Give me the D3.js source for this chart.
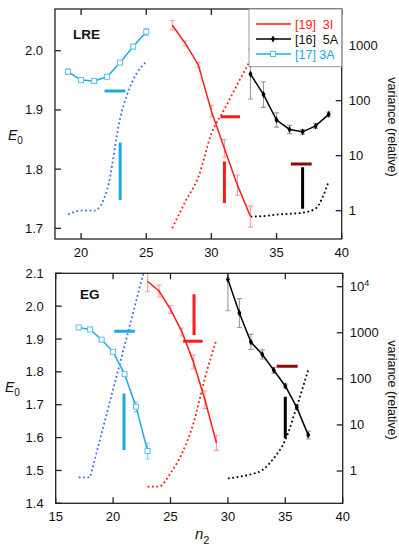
<!DOCTYPE html>
<html>
<head>
<meta charset="utf-8">
<script src="https://cdn.jsdelivr.net/npm/d3@7"></script>
<style>
  body { margin: 0; background: #fff; }
  text { font-family: "Liberation Sans", Arial, sans-serif; fill: #111; }
</style>
</head>
<body>
<script>
// ---- LRE panel data ----
const lre3A_n = [19, 20, 21, 22, 23, 24, 25];
const lre3A_E = [1.9645, 1.9505, 1.949, 1.956, 1.980, 2.007, 2.032];
const lre3A_err = [0.005, 0.003, 0.002, 0.003, 0.003, 0.004, 0.006];
const lre3A_var = [0.86, 1.0, 1.0, 2.4, 48, 240, 510];

const lre3I_n = [27, 28, 29, 30, 31, 32, 33];
const lre3I_E = [2.043, 2.0125, 1.976, 1.898, 1.835, 1.773, 1.720];
const lre3I_err = [0.008, 0.004, 0.004, 0.010, 0.015, 0.017, 0.018];
const lre3I_var = [0.48, 1.46, 4.1, 25, 70, 200, 550];

const lre5A_n = [33, 34, 35, 36, 37, 38, 39];
const lre5A_E = [1.9606, 1.926, 1.883, 1.867, 1.863, 1.873, 1.8926];
const lre5A_err = [0.042, 0.0216, 0.012, 0.007, 0.004, 0.004, 0.004];
const lre5A_var = [0.78, 0.80, 0.85, 0.88, 0.92, 1.1, 3.4];

// estimate bars: horizontal [n from, n to, E], vertical [n, E from, E to]
const lre3A_hbar = [21.8, 23.4, 1.932], lre3A_vbar = [23, 1.748, 1.845];
const lre3I_hbar = [30.7, 32.2, 1.8885], lre3I_vbar = [31, 1.743, 1.813];
const lre5A_hbar = [36.1, 37.7, 1.8086], lre5A_vbar = [37, 1.733, 1.803];

// ---- EG panel data ----
const eg3A_n = [17, 18, 19, 20, 21, 22, 23];
const eg3A_E = [1.935, 1.929, 1.898, 1.861, 1.793, 1.694, 1.559];
const eg3A_err = [0.002, 0.002, 0.002, 0.003, 0.005, 0.015, 0.024];
const eg3A_var = [0.73, 0.73, 6.6, 59, 530, 4800, 43000];

const eg3I_n = [23, 24, 25, 26, 27, 28, 29];
const eg3I_E = [2.0757, 2.046, 1.990, 1.9216, 1.830, 1.715, 1.584];
const eg3I_err = [0.032, 0.018, 0.012, 0.012, 0.021, 0.027, 0.023];
const eg3I_var = [0.46, 0.46, 0.9, 2.4, 10.8, 105, 700];

const eg5A_n = [30, 31, 32, 33, 34, 35, 36, 37];
const eg5A_E = [2.081, 1.979, 1.891, 1.853, 1.805, 1.757, 1.692, 1.6076];
const eg5A_err = [0.095, 0.044, 0.023, 0.014, 0.009, 0.006, 0.006, 0.012];
const eg5A_var = [0.69, 0.75, 0.85, 1.05, 1.9, 4.7, 25, 157];

const eg3A_hbar = [20.1, 21.9, 1.924], eg3A_vbar = [20.95, 1.562, 1.734];
const eg3I_hbar = [26.1, 27.8, 1.893], eg3I_vbar = [27.05, 1.912, 2.036];
const eg5A_hbar = [34.25, 36.08, 1.817], eg5A_vbar = [35, 1.598, 1.724];

// ticks
const lreXTicks = [20, 25, 30, 35, 40];
const lreETicks = [1.7, 1.8, 1.9, 2.0];
const lreVarTicks = [1, 10, 100, 1000];
const egXTicks = [15, 20, 25, 30, 35, 40];
const egETicks = [1.4, 1.5, 1.6, 1.7, 1.8, 1.9, 2.0, 2.1];
const egVarTicks = [1, 10, 100, 1000, 10000];

const legendLabels = ["[19]  3I", "[16]  5A", "[17] 3A"];

// colours
const cyan = "#1eaae4", cyanLight = "#8fd3f0", dotBlue = "#3b70e8";
const red = "#ff1a1a", redLight = "#f3a0a0", darkRed = "#8b0a0a";

const zip = (ns, es, errs, vs) => ns.map((n, i) => ({ n: n, e: es[i], err: errs[i], v: vs[i] }));

const panels = [
  {
    name: "LRE", left: 55, right: 341.7, top: 9, bottom: 239,
    xDom: [18, 40], eDom: [1.682, 2.0705], vDom: [0.306, 4645],
    xTicks: lreXTicks, eTicks: lreETicks, vTicks: lreVarTicks,
    labelPos: [73, 39.3], e0Pos: [8, 140], varY: 127,
    series: [
      { pts: zip(lre3A_n, lre3A_E, lre3A_err, lre3A_var), line: cyan, errC: cyanLight, mark: "square", dot: dotBlue, hbar: lre3A_hbar, hC: cyan, vbar: lre3A_vbar, vC: cyan },
      { pts: zip(lre3I_n, lre3I_E, lre3I_err, lre3I_var), line: red, errC: redLight, mark: null, dot: red, hbar: lre3I_hbar, hC: red, vbar: lre3I_vbar, vC: red },
      { pts: zip(lre5A_n, lre5A_E, lre5A_err, lre5A_var), line: "#000", errC: "#999", mark: "diamond", dot: "#000", hbar: lre5A_hbar, hC: darkRed, vbar: lre5A_vbar, vC: "#000" }
    ]
  },
  {
    name: "EG", left: 55.7, right: 342.7, top: 273.3, bottom: 503.3,
    xDom: [15, 40], eDom: [1.4, 2.1], vDom: [0.199, 19540],
    xTicks: egXTicks, eTicks: egETicks, vTicks: egVarTicks,
    labelPos: [80, 299.3], e0Pos: [5, 391.7], varY: 390,
    series: [
      { pts: zip(eg3A_n, eg3A_E, eg3A_err, eg3A_var), line: cyan, errC: cyanLight, mark: "square", dot: dotBlue, linearVar: true, hbar: eg3A_hbar, hC: cyan, vbar: eg3A_vbar, vC: cyan },
      { pts: zip(eg3I_n, eg3I_E, eg3I_err, eg3I_var), line: red, errC: redLight, mark: null, dot: red, hbar: eg3I_hbar, hC: red, vbar: eg3I_vbar, vC: red },
      { pts: zip(eg5A_n, eg5A_E, eg5A_err, eg5A_var), line: "#000", errC: "#999", mark: "diamond", dot: "#000", hbar: eg5A_hbar, hC: darkRed, vbar: eg5A_vbar, vC: "#000" }
    ]
  }
];

const svg = d3.select("body").append("svg")
  .attr("width", 399).attr("height", 550);

panels.forEach((p, pi) => {
  const x = d3.scaleLinear().domain(p.xDom).range([p.left, p.right]);
  const y = d3.scaleLinear().domain(p.eDom).range([p.bottom, p.top]);
  const yv = d3.scaleLog().domain(p.vDom).range([p.bottom, p.top]);

  const clipId = "clip" + pi;
  svg.append("clipPath").attr("id", clipId)
    .append("rect")
    .attr("x", p.left).attr("y", p.top)
    .attr("width", p.right - p.left).attr("height", p.bottom - p.top);

  const g = svg.append("g").attr("clip-path", `url(#${clipId})`);

  // dotted variance curves first, they sit behind everything
  p.series.forEach(s => {
    const vline = d3.line()
      .x(d => x(d.n)).y(d => yv(d.v))
      .curve(s.linearVar ? d3.curveLinear : d3.curveMonotoneX);
    g.append("path")
      .attr("d", vline(s.pts))
      .attr("fill", "none")
      .attr("stroke", s.dot)
      .attr("stroke-width", 1.8)
      .attr("stroke-dasharray", "1.8,2.6");
  });

  // the estimate bars
  p.series.forEach(s => {
    g.append("line")
      .attr("x1", x(s.hbar[0])).attr("x2", x(s.hbar[1]))
      .attr("y1", y(s.hbar[2])).attr("y2", y(s.hbar[2]))
      .attr("stroke", s.hC).attr("stroke-width", 3);
    g.append("line")
      .attr("x1", x(s.vbar[0])).attr("x2", x(s.vbar[0]))
      .attr("y1", y(s.vbar[1])).attr("y2", y(s.vbar[2]))
      .attr("stroke", s.vC).attr("stroke-width", 3);
  });

  // error bars with caps
  p.series.forEach(s => {
    const eb = g.append("g").attr("stroke", s.errC).attr("stroke-width", 1.1);
    s.pts.forEach(d => {
      const cx = x(d.n), y0 = y(d.e - d.err), y1 = y(d.e + d.err);
      eb.append("line").attr("x1", cx).attr("x2", cx).attr("y1", y0).attr("y2", y1);
      eb.append("line").attr("x1", cx - 2.5).attr("x2", cx + 2.5).attr("y1", y0).attr("y2", y0);
      eb.append("line").attr("x1", cx - 2.5).attr("x2", cx + 2.5).attr("y1", y1).attr("y2", y1);
    });
  });

  // energy lines + markers
  p.series.forEach(s => {
    const eline = d3.line().x(d => x(d.n)).y(d => y(d.e));
    g.append("path")
      .attr("d", eline(s.pts))
      .attr("fill", "none")
      .attr("stroke", s.line)
      .attr("stroke-width", 1.5);
    if (s.mark === "square") {
      g.selectAll(null).data(s.pts).enter().append("rect")
        .attr("x", d => x(d.n) - 2.5).attr("y", d => y(d.e) - 2.5)
        .attr("width", 5).attr("height", 5)
        .attr("fill", "#fff").attr("stroke", "#58bfea").attr("stroke-width", 1);
    } else if (s.mark === "diamond") {
      g.selectAll(null).data(s.pts).enter().append("path")
        .attr("d", d3.symbol(d3.symbolDiamond, 14))
        .attr("transform", d => `translate(${x(d.n)},${y(d.e)})`)
        .attr("fill", "#000");
    }
  });

  // frame
  svg.append("rect")
    .attr("x", p.left).attr("y", p.top)
    .attr("width", p.right - p.left).attr("height", p.bottom - p.top)
    .attr("fill", "none").attr("stroke", "#222").attr("stroke-width", 1.3);

  // ticks, all pointing in
  const tk = svg.append("g").attr("stroke", "#222").attr("stroke-width", 1.3);
  p.xTicks.forEach(t => {
    tk.append("line").attr("x1", x(t)).attr("x2", x(t)).attr("y1", p.bottom).attr("y2", p.bottom - 6);
    tk.append("line").attr("x1", x(t)).attr("x2", x(t)).attr("y1", p.top).attr("y2", p.top + 6);
  });
  p.eTicks.forEach(t => {
    tk.append("line").attr("x1", p.left).attr("x2", p.left + 6).attr("y1", y(t)).attr("y2", y(t));
  });
  p.vTicks.forEach(t => {
    tk.append("line").attr("x1", p.right).attr("x2", p.right - 6).attr("y1", yv(t)).attr("y2", yv(t));
  });

  // tick labels
  svg.append("g").selectAll("text").data(p.xTicks).enter().append("text")
    .attr("x", d => x(d)).attr("y", p.bottom + 17.5)
    .attr("text-anchor", "middle").style("font-size", "13px")
    .text(d => d);
  svg.append("g").selectAll("text").data(p.eTicks).enter().append("text")
    .attr("x", p.left - 12).attr("y", d => y(d) + 4.5)
    .attr("text-anchor", "end").style("font-size", "13px")
    .text(d => d.toFixed(1));
  const vt = svg.append("g").selectAll("text").data(p.vTicks).enter().append("text")
    .attr("x", p.right + 7).attr("y", d => yv(d) + 4.5)
    .style("font-size", "13px");
  vt.each(function(d) {
    const t = d3.select(this);
    if (d >= 10000) {
      t.append("tspan").text("10");
      t.append("tspan").attr("dy", -5).style("font-size", "9px").text(Math.round(Math.log10(d)));
    } else {
      t.text(d);
    }
  });

  // panel name
  svg.append("text")
    .attr("x", p.labelPos[0]).attr("y", p.labelPos[1])
    .style("font-size", "13.5px").style("font-weight", "bold")
    .text(p.name);

  // E0 label
  const e0 = svg.append("text")
    .attr("x", p.e0Pos[0]).attr("y", p.e0Pos[1])
    .style("font-size", "14px");
  e0.append("tspan").style("font-style", "italic").text("E");
  e0.append("tspan").attr("dy", 4).style("font-size", "10px").text("0");

  // right axis title
  svg.append("text")
    .attr("transform", `translate(387.5,${p.varY}) rotate(90)`)
    .attr("text-anchor", "middle")
    .style("font-size", "12.5px")
    .text("variance (relative)");
});

// n2 label under bottom panel
const nl = svg.append("text").attr("x", 195).attr("y", 539).style("font-size", "15px");
nl.append("tspan").style("font-style", "italic").text("n");
nl.append("tspan").attr("dy", 5).style("font-size", "11px").text("2");

// legend in the top panel corner
const leg = svg.append("g");
leg.append("rect")
  .attr("x", 249).attr("y", 9).attr("width", 92.7).attr("height", 57.7)
  .attr("fill", "#fff").attr("stroke", "#999").attr("stroke-width", 1);
const legColors = [red, "#000", cyan];
const legText = ["#ff2020", "#111", "#1aa7e6"];
legendLabels.forEach((lab, i) => {
  const ly = 24 + i * 15;
  leg.append("line")
    .attr("x1", 256).attr("x2", 291).attr("y1", ly).attr("y2", ly)
    .attr("stroke", legColors[i]).attr("stroke-width", 1.5);
  if (i === 1) {
    leg.append("path").attr("d", d3.symbol(d3.symbolDiamond, 14))
      .attr("transform", `translate(273,${ly})`).attr("fill", "#000");
  }
  if (i === 2) {
    leg.append("rect").attr("x", 270.5).attr("y", ly - 2.5).attr("width", 5).attr("height", 5)
      .attr("fill", "#fff").attr("stroke", "#58bfea");
  }
  leg.append("text")
    .attr("x", 295).attr("y", ly + 4.5)
    .style("font-size", "12.5px")
    .style("fill", legText[i])
    .style("white-space", "pre")
    .attr("xml:space", "preserve")
    .text(lab);
});
</script>
</body>
</html>
